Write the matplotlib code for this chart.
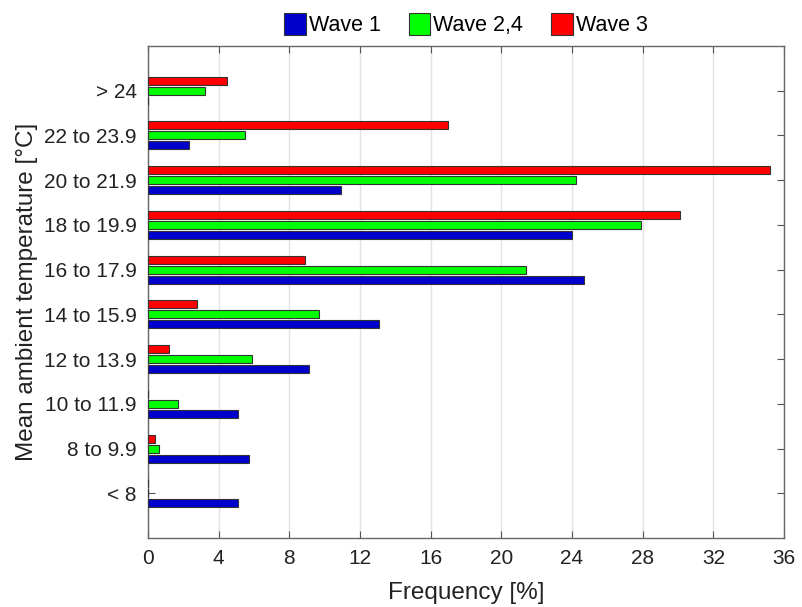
import matplotlib
matplotlib.use("Agg")
import matplotlib.pyplot as plt
import numpy as np

categories = ["< 8", "8 to 9.9", "10 to 11.9", "12 to 13.9", "14 to 15.9",
              "16 to 17.9", "18 to 19.9", "20 to 21.9", "22 to 23.9", "> 24"]
wave1 = [5.1, 5.7, 5.1, 9.1, 13.1, 24.7, 24.0, 10.9, 2.3, 0.0]
wave24 = [0.0, 0.6, 1.7, 5.9, 9.7, 21.4, 27.9, 24.2, 5.5, 3.2]
wave3 = [0.0, 0.4, 0.0, 1.2, 2.8, 8.9, 30.1, 35.2, 17.0, 4.5]

plt.rcParams["font.family"] = ["Liberation Sans", "DejaVu Sans"]
plt.rcParams["font.size"] = 15
plt.rcParams["xtick.direction"] = "in"
plt.rcParams["ytick.direction"] = "in"

fig = plt.figure(figsize=(8.03, 6.07), dpi=100)
ax = fig.add_axes([148 / 803, 1 - 538 / 607, 636 / 803, 492 / 607])

pos = np.arange(1, len(categories) + 1)
step = 0.224
hgt = 0.18
series = [(wave1, "#0000CC", "Wave 1", -step),
          (wave24, "#00FF00", "Wave 2,4", 0.0),
          (wave3, "#FF0000", "Wave 3", step)]
for vals, col, lab, off in series:
    ax.barh(pos + off, vals, height=hgt, color=col, edgecolor="#333333",
            linewidth=0.8, label=lab, zorder=3)

ax.set_xlim(0, 36)
ax.set_ylim(0, 11)
ax.set_xticks(np.arange(0, 37, 4))
ax.set_yticks(pos)
ax.set_yticklabels(categories)
ax.xaxis.grid(True, color="#e3e3e3", linewidth=1, zorder=0)
ax.tick_params(top=True, right=True, length=5, width=0.8, color="#555555",
               labelcolor="#222222", labelsize=15, pad=8)
for sp in ax.spines.values():
    sp.set_color("#666666")
    sp.set_linewidth(1)

ax.set_xlabel("Frequency [%]", color="#222222", fontsize=17.5, labelpad=10)
ax.set_ylabel("Mean ambient temperature [°C]", color="#222222", fontsize=17.5,
              labelpad=4)

ax.legend(loc="lower center", bbox_to_anchor=(0.5, 1.0), ncol=3, frameon=False,
          handlelength=1.0, handleheight=1.15, handletextpad=0.15,
          columnspacing=1.3, borderaxespad=0.05, fontsize=15.5)

fig.savefig("out.png", dpi=100)
